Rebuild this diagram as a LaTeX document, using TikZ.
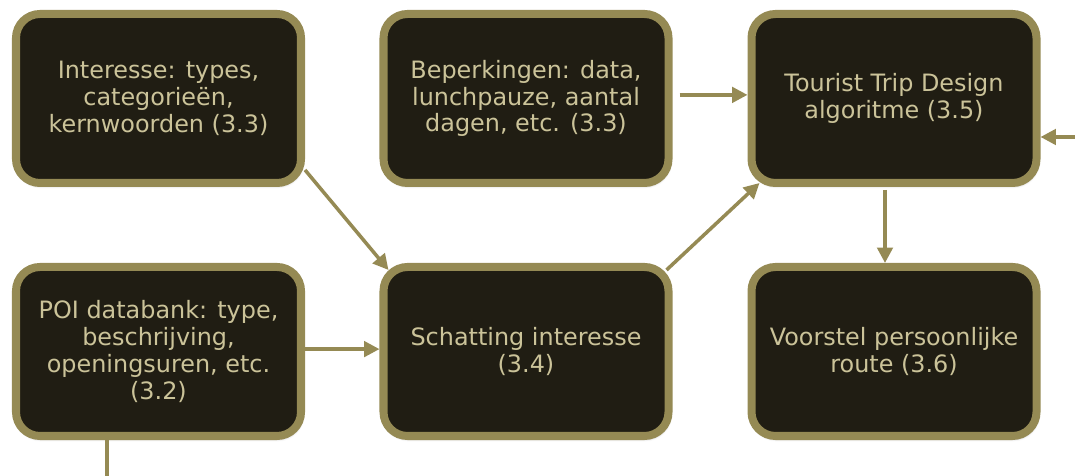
\documentclass[tikz,border=0pt]{standalone}
\usepackage{fontspec}
\setmainfont{DejaVu Sans}
\usetikzlibrary{arrows.meta,shadows.blur}
\definecolor{olijf}{HTML}{958A54}
\definecolor{donker}{HTML}{201D13}
\definecolor{tekst}{HTML}{CBC399}
\begin{document}
\begin{tikzpicture}[
		blok/.style={draw=olijf, fill=donker, line width=5.7pt, rounded corners=0.6cm,
			minimum width=7.125cm, minimum height=4.225cm, inner sep=0pt, align=center,
			text=tekst, font=\fontsize{17}{19}\selectfont,
			blur shadow={shadow xshift=0.6pt, shadow yshift=-1.8pt, shadow blur steps=6, shadow opacity=35}},
		pijl/.style={draw=olijf, line width=2.5pt, -{Triangle[length=11pt,width=11pt]}},
		lijn/.style={draw=olijf, line width=2.5pt}]
				\useasboundingbox (0,0) rectangle (26.875,11.9);
				% bovenste rij
				\node[blok] (interesse) at (3.9625,9.4375) {Interesse: types,\\categorieën,\\kernwoorden (3.3)};
				\node[blok] (beperking) at (13.15,9.4375) {Beperkingen: data,\\lunchpauze, aantal\\dagen, etc. (3.3)};
				\node[blok] (ttd) at (22.35,9.4375) {Tourist Trip Design\\algoritme (3.5)};
				% onderste rij
				\node[blok] (poi) at (3.9625,3.1125) {POI databank: type,\\beschrijving,\\openingsuren, etc.\\(3.2)};
				\node[blok] (schatting) at (13.15,3.1125) {Schatting interesse\\(3.4)};
				\node[blok] (route) at (22.35,3.1125) {Voorstel persoonlijke\\route (3.6)};
				% pijlen
				\draw[pijl] (interesse.-26.6) -- ([shift={(0.225,-0.175)}]schatting.north west);
				\draw[pijl] ([shift={(0.175,0.09)}]beperking.east) -- ([yshift=0.09cm]ttd.west);
				\draw[pijl] ([shift={(-0.15,-0.175)}]schatting.north east) -- ([shift={(0.3,0.1)}]ttd.south west);
				\draw[pijl] ([yshift=0.06cm]poi.east) -- ([yshift=0.06cm]schatting.west);
				\draw[pijl] ([shift={(-0.225,-0.075)}]ttd.south) -- ([xshift=-0.225cm]route.north);
				\coordinate (rechts) at (26.875,8.475);
				\draw[pijl] (rechts) -- (ttd.east |- rechts);
				\coordinate (onder) at (2.675,0);
				\draw[lijn] (poi.south -| onder) -- (onder);
\end{tikzpicture}
\end{document}
